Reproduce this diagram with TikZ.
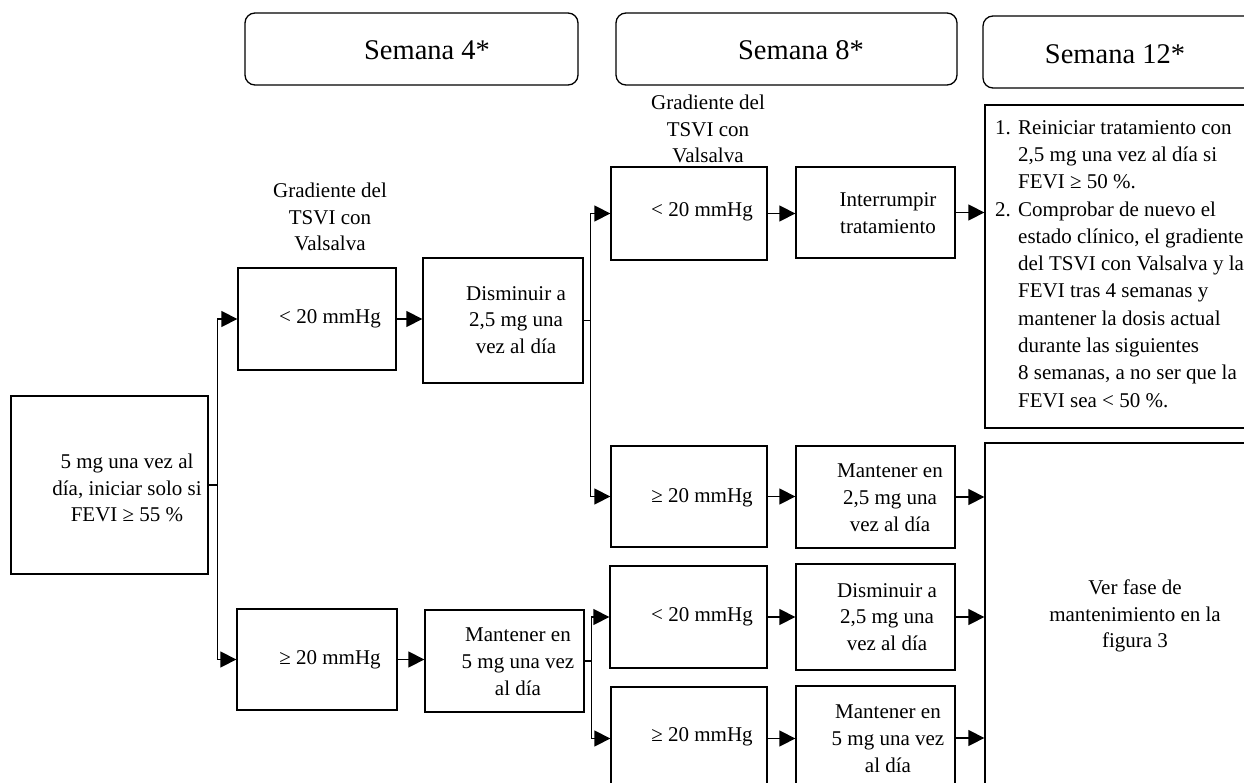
\documentclass[tikz,border=0pt]{standalone}
\usepackage{fontspec}
\setmainfont{Liberation Serif}
\usetikzlibrary{arrows.meta}

\begin{document}
\begin{tikzpicture}[x=1pt, y=-1pt,
  box/.style={draw, line width=1.3pt, inner sep=0pt},
  head/.style={box, rounded corners=10pt},
  txt/.style={align=center, inner sep=0pt, font=\fontsize{21}{26.8}\selectfont},
  headtxt/.style={inner sep=0pt, font=\fontsize{28.5}{34}\selectfont},
  arr/.style={line width=1.3pt, -{Triangle[length=16pt, width=16pt]}}]

\useasboundingbox (0, 0) rectangle (1244, 783);
\clip (0, 0) rectangle (1244, 783);

% week headers
\node[head, minimum width=333pt, minimum height=72pt] (sem4) at (411.5, 49) {};
\node[head, minimum width=341pt, minimum height=72pt] (sem8) at (786.5, 49) {};
\node[head, minimum width=317pt, minimum height=72pt] (sem12) at (1141.5, 52) {};
\node[headtxt] (sem4-t) at (427, 50) {Semana 4*};
\node[headtxt] (sem8-t) at (801, 50) {Semana 8*};
\node[headtxt] (sem12-t) at (1115, 54) {Semana 12*};

% start
\node[box, minimum width=197pt, minimum height=178pt] (start) at (109.5, 485) {};
\node[txt] (start-t) at (127, 488) {5 mg una vez al\\día, iniciar solo si\\FEVI ≥ 55 \%};

% week 4
\node[txt] (lab4) at (330, 217) {Gradiente del\\TSVI con\\Valsalva};
\node[box, minimum width=158pt, minimum height=102pt] (lt4) at (317, 319) {};
\node[box, minimum width=160pt, minimum height=101pt] (ge4) at (317, 659.5) {};
\node[box, minimum width=160pt, minimum height=125pt] (dec4) at (503, 320.5) {};
\node[box, minimum width=159pt, minimum height=102pt] (keep4) at (504.5, 661) {};
\node[txt] (lt4-t) at (330, 319) {< 20 mmHg};
\node[txt] (ge4-t) at (330, 660) {≥ 20 mmHg};
\node[txt] (dec4-t) at (516, 320) {Disminuir a\\2,5 mg una\\vez al día};
\node[txt] (keep4-t) at (518, 662) {Mantener en\\5 mg una vez\\al día};

% week 8
\node[txt] (lab8) at (708, 129) {Gradiente del\\TSVI con\\Valsalva};
\node[box, minimum width=156pt, minimum height=93pt] (lt8a) at (689, 213.5) {};
\node[box, minimum width=156pt, minimum height=101pt] (ge8a) at (689, 496.5) {};
\node[box, minimum width=157pt, minimum height=102pt] (lt8b) at (688.5, 617) {};
\node[box, minimum width=156pt, minimum height=103pt] (ge8b) at (689, 738.5) {};
\node[txt] (lt8a-t) at (702, 212) {< 20 mmHg};
\node[txt] (ge8a-t) at (702, 498) {≥ 20 mmHg};
\node[txt] (lt8b-t) at (702, 617) {< 20 mmHg};
\node[txt] (ge8b-t) at (702, 737) {≥ 20 mmHg};

\node[box, minimum width=159pt, minimum height=91pt] (stop8) at (875.5, 212.5) {};
\node[box, minimum width=159pt, minimum height=102pt] (keep8a) at (875.5, 497) {};
\node[box, minimum width=159pt, minimum height=106pt] (dec8) at (875.5, 617) {};
\node[box, minimum width=159pt, minimum height=104pt] (keep8b) at (875.5, 738) {};
\node[txt] (stop8-t) at (888, 213) {Interrumpir\\tratamiento};
\node[txt] (keep8a-t) at (890, 498) {Mantener en\\2,5 mg una\\vez al día};
\node[txt] (dec8-t) at (887, 617) {Disminuir a\\2,5 mg una\\vez al día};
\node[txt] (keep8b-t) at (888, 739) {Mantener en\\5 mg una vez\\al día};

% week 12
\node[box, minimum width=315pt, minimum height=323pt] (restart) at (1142.5, 266.5) {};
\node[box, minimum width=315pt, minimum height=357pt] (maint) at (1142.5, 621.5) {};
\node[txt, align=left, anchor=north west, font=\fontsize{21}{27.3}\selectfont] (restart-t) at (995, 120) {%
\makebox[23pt][l]{1.}Reiniciar tratamiento con\\
\hspace*{23pt}2,5 mg una vez al día si\\
\hspace*{23pt}FEVI ≥ 50 \%.\\
\makebox[23pt][l]{2.}Comprobar de nuevo el\\
\hspace*{23pt}estado clínico, el gradiente\\
\hspace*{23pt}del TSVI con Valsalva y la\\
\hspace*{23pt}FEVI tras 4 semanas y\\
\hspace*{23pt}mantener la dosis actual\\
\hspace*{23pt}durante las siguientes\\
\hspace*{23pt}8 semanas, a no ser que la\\
\hspace*{23pt}FEVI sea < 50 \%.};
\node[txt] (maint-t) at (1135, 616) {Ver fase de\\mantenimiento en la\\figura 3};

% connectors
\draw[arr] (start.east) -- ++(9, 0) |- (lt4.west);
\draw[arr] (start.east) -- ++(9, 0) |- (ge4.west);
\draw[arr] (lt4.east) -- (lt4.east -| dec4.west);
\draw[arr] (ge4.east) -- (ge4.east -| keep4.west);
\draw[arr] (dec4.east) -- ++(7, 0) |- (lt8a.west);
\draw[arr] (dec4.east) -- ++(7, 0) |- (ge8a.west);
\draw[arr] (keep4.east) -- ++(7, 0) |- (lt8b.west);
\draw[arr] (keep4.east) -- ++(7, 0) |- (ge8b.west);
\draw[arr] (lt8a.east) -- (lt8a.east -| stop8.west);
\draw[arr] (ge8a.east) -- (ge8a.east -| keep8a.west);
\draw[arr] (lt8b.east) -- (lt8b.east -| dec8.west);
\draw[arr] (ge8b.east) -- (ge8b.east -| keep8b.west);
\draw[arr] (stop8.east) -- (stop8.east -| restart.west);
\draw[arr] (keep8a.east) -- (keep8a.east -| maint.west);
\draw[arr] (dec8.east) -- (dec8.east -| maint.west);
\draw[arr] (keep8b.east) -- (keep8b.east -| maint.west);
\end{tikzpicture}
\end{document}
